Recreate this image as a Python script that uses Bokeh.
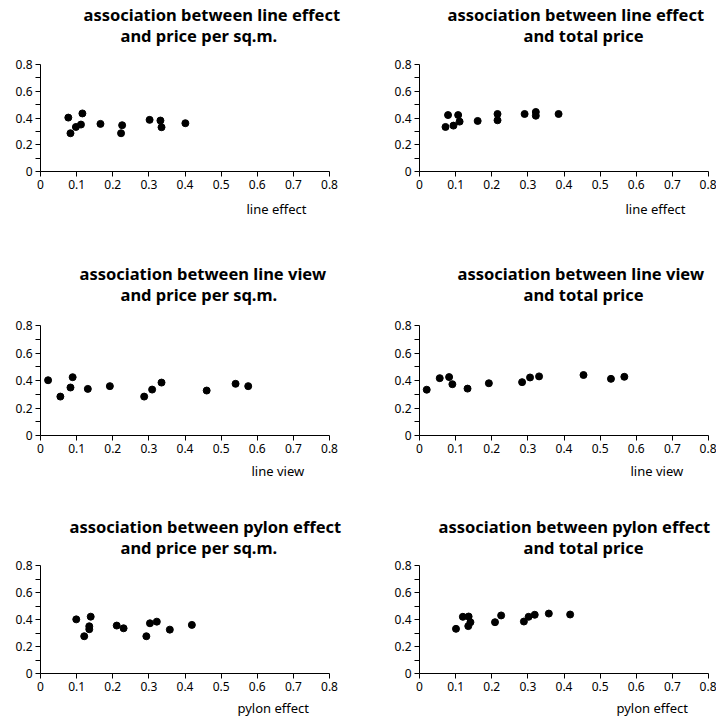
from bokeh.plotting import figure
from bokeh.models import Range1d, FixedTicker, Title
from bokeh.layouts import column, row
from bokeh.embed import file_html
from bokeh.resources import INLINE

# ---- data ----
line_effect_a = [0.077, 0.083, 0.098, 0.112, 0.116, 0.166, 0.226, 0.223, 0.302, 0.332, 0.335, 0.401]
price_sqm_a = [0.403, 0.286, 0.333, 0.351, 0.434, 0.356, 0.346, 0.286, 0.386, 0.381, 0.331, 0.361]

line_effect_b = [0.072, 0.079, 0.094, 0.107, 0.111, 0.161, 0.216, 0.216, 0.291, 0.322, 0.322, 0.385]
total_price_b = [0.333, 0.422, 0.343, 0.422, 0.373, 0.378, 0.430, 0.383, 0.430, 0.445, 0.417, 0.430]

line_view_c = [0.021, 0.055, 0.083, 0.089, 0.131, 0.192, 0.287, 0.309, 0.335, 0.460, 0.540, 0.575]
price_sqm_c = [0.402, 0.283, 0.349, 0.424, 0.339, 0.359, 0.283, 0.334, 0.385, 0.327, 0.376, 0.359]

line_view_d = [0.020, 0.056, 0.082, 0.091, 0.133, 0.192, 0.284, 0.306, 0.331, 0.454, 0.530, 0.567]
total_price_d = [0.333, 0.417, 0.425, 0.373, 0.341, 0.380, 0.388, 0.422, 0.430, 0.440, 0.412, 0.427]

pylon_effect_e = [0.099, 0.121, 0.135, 0.135, 0.139, 0.211, 0.230, 0.293, 0.303, 0.322, 0.358, 0.419]
price_sqm_e = [0.401, 0.276, 0.350, 0.328, 0.421, 0.355, 0.335, 0.276, 0.372, 0.384, 0.325, 0.360]

pylon_effect_f = [0.101, 0.120, 0.135, 0.136, 0.141, 0.209, 0.226, 0.289, 0.302, 0.319, 0.358, 0.417]
total_price_f = [0.331, 0.420, 0.351, 0.422, 0.380, 0.380, 0.430, 0.385, 0.420, 0.435, 0.444, 0.437]

x_ticks = [0, 0.1, 0.2, 0.3, 0.4, 0.5, 0.6, 0.7, 0.8]
x_tick_labels = ["0", "0.1", "0.2", "0.3", "0.4", "0.5", "0.6", "0.7", "0.8"]
y_ticks = [0, 0.2, 0.4, 0.6, 0.8]
y_minor_ticks = [0.1, 0.3, 0.5, 0.7]
y_tick_labels = ["0", "0.2", "0.4", "0.6", "0.8"]

FONT = "Noto Sans"
TITLE_SIZE = "16.5px"

# column geometry: (figure width, left border, right border)
COLS = [(358, 40, 29), (358, 61, 8)]
# row geometry: (figure height, top border, bottom border,
#                title spacer standoff, x caption standoff)
ROWS = [(256, 64, 85, 15, 12), (256, 69, 77, 17, 8), (212, 53, 51, 4, 7)]


def make_panel(xs, ys, title1, title2, xlabel, col, rw, off1, off2, offx):
    width, bl, br = COLS[col]
    height, bt, bb, spacer, cap_standoff = ROWS[rw]
    p = figure(width=width, height=height, title=None,
               x_range=Range1d(0, 0.8), y_range=Range1d(0, 0.8),
               output_backend="svg", toolbar_location=None,
               min_border_left=bl, min_border_right=br,
               min_border_top=bt, min_border_bottom=bb)
    p.outline_line_color = None
    p.grid.visible = False
    p.background_fill_color = "white"
    p.border_fill_color = "white"

    p.xaxis.ticker = FixedTicker(ticks=x_ticks)
    p.xaxis.major_label_overrides = dict(zip(x_ticks, x_tick_labels))
    p.yaxis.ticker = FixedTicker(ticks=y_ticks, minor_ticks=y_minor_ticks)
    p.yaxis.major_label_overrides = dict(zip(y_ticks, y_tick_labels))
    for ax in (p.xaxis, p.yaxis):
        ax.axis_line_color = "black"
        ax.axis_line_width = 1
        ax.major_tick_in = 0
        ax.major_tick_out = 5
        ax.minor_tick_in = 0
        ax.minor_tick_out = 5
        ax.major_tick_line_color = "black"
        ax.minor_tick_line_color = "black"
        ax.major_label_text_font = FONT
        ax.major_label_text_font_size = "12px"
        ax.major_label_text_color = "black"
        ax.major_label_standoff = 3
    p.scatter(xs, ys, size=7, color="black")

    # spacer, then the two title lines (first added sits nearest the frame)
    p.add_layout(Title(text=" ", standoff=spacer, text_font_size="1px"), "above")
    p.add_layout(Title(text=title2, align="left", offset=off2, standoff=0,
                       text_font=FONT, text_font_size=TITLE_SIZE,
                       text_font_style="bold", text_color="black"), "above")
    p.add_layout(Title(text=title1, align="left", offset=off1, standoff=-9,
                       text_font=FONT, text_font_size=TITLE_SIZE,
                       text_font_style="bold", text_color="black"), "above")

    # x axis caption below the tick labels
    p.add_layout(Title(text=xlabel, align="left", offset=offx, standoff=cap_standoff,
                       text_font=FONT, text_font_size="13px",
                       text_font_style="normal", text_color="black"), "below")
    return p


p1 = make_panel(line_effect_a, price_sqm_a, "association between line effect",
                "and price per sq.m.", "line effect", 0, 0, 43, 80, 206)
p2 = make_panel(line_effect_b, total_price_b, "association between line effect",
                "and total price", "line effect", 1, 0, 28, 104, 206)
p3 = make_panel(line_view_c, price_sqm_c, "association between line view",
                "and price per sq.m.", "line view", 0, 1, 39, 80, 211)
p4 = make_panel(line_view_d, total_price_d, "association between line view",
                "and total price", "line view", 1, 1, 38, 104, 211)
p5 = make_panel(pylon_effect_e, price_sqm_e, "association between pylon effect",
                "and price per sq.m.", "pylon effect", 0, 2, 29, 80, 197)
p6 = make_panel(pylon_effect_f, total_price_f, "association between pylon effect",
                "and total price", "pylon effect", 1, 2, 19, 104, 197)

layout = column(row(p1, p2), row(p3, p4), row(p5, p6))

open("out.html", "w").write(file_html(layout, INLINE))
